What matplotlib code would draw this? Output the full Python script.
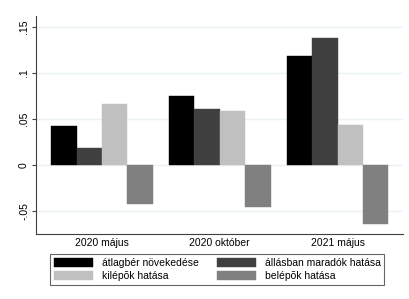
import matplotlib
matplotlib.use("Agg")
import matplotlib.pyplot as plt
import numpy as np

plt.rcParams['font.family'] = ['Liberation Sans', 'DejaVu Sans']

categories = ["2020 május", "2020 október", "2021 május"]
atlagber = [0.0424, 0.075, 0.1185]
allasban = [0.0181, 0.0605, 0.1377]
kilepok = [0.066, 0.059, 0.0438]
belepok = [-0.0424, -0.046, -0.0641]
series_labels = ["átlagbér növekedése", "állásban maradók hatása",
                 "kilépõk hatása", "belépõk hatása"]
colors = ["#000000", "#404040", "#c0c0c0", "#808080"]
yticks = [-0.05, 0, 0.05, 0.1, 0.15]
ytick_labels = ["-.05", "0", ".05", ".1", ".15"]

W, H = 409, 299
fig = plt.figure(figsize=(W / 100, H / 100), dpi=100)
ax = fig.add_axes([36 / W, 1 - 234 / H, (403 - 36) / W, (234 - 16) / H])

x = np.arange(len(categories))
w = 0.216
series = [atlagber, allasban, kilepok, belepok]
handles = []
for i, (vals, lab, c) in enumerate(zip(series, series_labels, colors)):
    b = ax.bar(x + (i - 1.5) * w, vals, width=w, color=c, edgecolor=c,
               linewidth=0.3, label=lab, zorder=3)
    handles.append(b)

ax.set_xlim(-0.561, 2.556)
ax.set_ylim(-0.075, 0.162)
ax.set_yticks(yticks)
ax.set_yticklabels(ytick_labels, rotation=90, va='center', fontsize=7.5)
ax.set_xticks(x)
ax.set_xticklabels(categories, fontsize=7.5)
ax.tick_params(axis='x', length=0, pad=3)
ax.tick_params(axis='y', length=3, width=0.8, color='#404040', pad=2)
ax.yaxis.grid(True, color='#eaf2f3', linewidth=1.0, zorder=0)
ax.set_axisbelow(True)
for s in ['top', 'right']:
    ax.spines[s].set_visible(False)
for s in ['left', 'bottom']:
    ax.spines[s].set_color('#404040')
    ax.spines[s].set_linewidth(0.8)

order = [0, 1, 2, 3]
leg = fig.legend([handles[0], handles[2], handles[1], handles[3]],
                 [series_labels[0], series_labels[2], series_labels[1], series_labels[3]],
                 ncol=2, loc='upper left',
                 bbox_to_anchor=(50 / W, 1 - 254 / H),
                 bbox_transform=fig.transFigure,
                 fontsize=7.5, frameon=True, fancybox=False,
                 handlelength=3.75, handleheight=0.96, handletextpad=0.87,
                 columnspacing=1.73, labelspacing=0.3, borderpad=0.35,
                 borderaxespad=0)
leg.get_frame().set_edgecolor('#404040')
leg.get_frame().set_linewidth(0.8)

fig.savefig("out.png", dpi=100)
